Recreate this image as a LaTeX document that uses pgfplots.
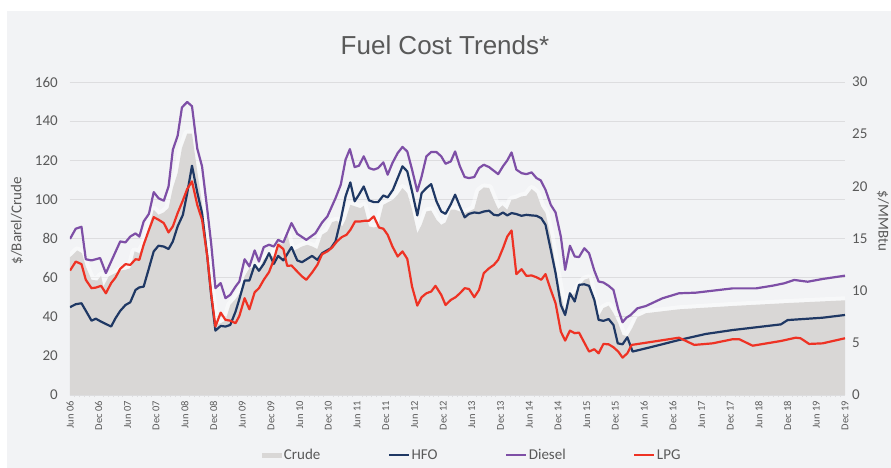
\documentclass[border=0pt]{standalone}
\usepackage{fontspec}
\setmainfont{Carlito}
\newfontfamily\titlefont{Liberation Sans}
\usepackage{pgfplots}
\usepackage{pgfplotstable}
\pgfplotsset{compat=1.18}
\definecolor{bg}{HTML}{F2F3F5}
\definecolor{crudec}{HTML}{D9D7D6}
\definecolor{hfoc}{HTML}{1F3864}
\definecolor{dieselc}{HTML}{7E4FA6}
\definecolor{lpgc}{HTML}{EE3224}
\definecolor{txt}{HTML}{595959}
\definecolor{gridc}{HTML}{DDDDDF}

\pgfplotstableread{
x y
0 70.3
1.5 73.9
2.5 72.5
3.3 65.7
4.5 58.9
5.7 58.5
6.5 60.9
7 55.4
8.1 60.6
9.5 62.3
10.5 63.6
11.6 64
12.6 64.8
13.5 73.4
14.5 72.5
15.5 76.8
16.5 85.8
17.5 94.7
18.5 92.1
19.6 93.3
20.6 95.5
21.5 105.8
22.5 113.5
23.4 126.2
24.5 133.6
25.5 133.6
26.6 114.3
27.6 98.1
28.7 74.2
29.5 53.7
30.4 35.8
31.5 36.7
32.5 38
33.5 46
34.6 49
35.7 52.9
36.5 60.6
37.5 64.8
38.6 65.3
39.5 64
40.5 69.4
41.6 70.8
42.6 71.1
43.5 78
44.6 76.8
45.4 82.7
46.3 73.4
47.5 74.6
48.5 75.9
49.6 76.8
50.6 75.9
51.7 74.6
52.7 81.9
53.8 83.6
54.8 88.4
55.8 89.1
56.9 86.2
57.6 89.6
58.6 97.2
59.6 96.4
60.7 95.5
61.4 96.7
62.5 86.2
63.5 85.6
64.4 86.2
65.5 97.2
66.4 98.4
67.5 99.8
68.5 102.4
69.5 105.8
70.5 103.2
71.5 94.7
72.6 82.7
73.5 87
74.5 93.8
75.5 94.3
76.6 89.6
77.6 87
78.5 88.2
79.6 94.7
80.5 94.7
81.5 93.8
82.5 93
83.4 93.8
84.5 95.2
85.5 104.1
86.5 106.1
87.6 105.8
88.6 99.8
89.5 95
90.4 96.9
91.4 94.7
92.3 99.8
93.3 100.3
94.4 101.5
95.4 101.8
96.5 105.3
97.5 103.2
98.5 96.4
99.4 93
100.5 81
101.5 65.7
102.6 51.2
103.5 42.6
104.5 50.3
105.5 52
106.4 55.4
107.5 58.9
108.5 59.7
109.6 46.9
110.5 40
111.5 44.4
112.6 45.7
113.6 41.8
114.6 36.7
115.5 30.7
116.5 29.9
117.5 34.1
118.6 39.7
120.4 41.8
127.3 43.8
138.5 45.5
150 47
162 48.4
}\crudetable

\begin{document}
\begin{tikzpicture}
\useasboundingbox (0pt,0pt) rectangle (891pt,468pt);
\fill[white] (0pt,0pt) rectangle (891pt,468pt);
\fill[bg] (7pt,0pt) rectangle (891pt,457pt);
\node[font=\titlefont\fontsize{26}{30}\selectfont, text=txt] at (445pt,423pt) {Fuel Cost Trends*};

\begin{axis}[
  at={(70pt,73pt)}, anchor=south west, scale only axis,
  width=775pt, height=313pt,
  xmin=0, xmax=162, ymin=0, ymax=160,
  /pgf/number format/assume math mode=true,
  axis x line*=bottom, axis y line*=left,
  x axis line style={draw=gridc, line width=0.8pt, -},
  y axis line style={draw=none},
  ytick={0,20,...,160},
  ymajorgrids, grid style={draw=gridc, line width=0.8pt},
  major tick length=0pt,
  xtick={0,6,...,162},
  xticklabels={Jun 06,Dec 06,Jun 07,Dec 07,Jun 08,Dec 08,Jun 09,Dec 09,Jun 10,Dec 10,Jun 11,Dec 11,Jun 12,Dec 12,Jun 13,Dec 13,Jun 14,Dec 14,Jun 15,Dec 15,Jun 16,Dec 16,Jun 17,Dec 17,Jun 18,Dec 18,Jun 19,Dec 19},
  minor x tick num=5, minor tick length=2.5pt, tick align=outside,
  minor tick style={draw=gridc, line width=0.6pt},
  xticklabel style={rotate=90, anchor=east, font=\fontsize{10.5}{12}\selectfont, text=txt, inner sep=6pt},
  yticklabel style={font=\fontsize{15}{18}\selectfont, text=txt, inner sep=0pt, xshift=-12pt},
  ylabel={\$/Barel/Crude},
  ylabel style={at={(axis description cs:-0.0684,0.556)}, anchor=center, font=\fontsize{15}{18}\selectfont, text=txt},
  legend style={at={(axis description cs:0.519,-0.192)}, anchor=center, draw=none, fill=none,
    font=\fontsize{15}{18}\selectfont, text=txt, nodes={inner sep=1.5pt},
    /tikz/every even column/.append style={column sep=66pt}},
  legend columns=4,
  legend image code/.code={\draw[#1] (0pt,0pt) -- (20pt,0pt);},
]
\addplot[draw=white, line width=8pt, line join=round, opacity=0.45, forget plot] table {\crudetable};
\addplot[draw=none, fill=crudec,
  legend image code/.code={\fill[crudec] (0pt,-2.5pt) rectangle (20pt,2.5pt);}] table {\crudetable} \closedcycle;
\addlegendentry{Crude}

\addplot[hfoc, line width=2.2pt, line join=round] table {
x y
0 44.9
1.2 46.4
2.4 46.9
4.5 38
5.4 39
6.5 37.5
7.5 36.3
8.6 35
9.5 39.2
10.5 43
11.6 46
12.6 47.4
13.7 53.7
14.5 55
15.4 55.4
16.5 64.8
17.5 73.4
18.5 76.3
19.6 75.9
20.6 74.6
21.5 78.5
22.5 86.2
23.6 92.1
24.5 103.2
25.5 117.2
26.6 103.6
27.6 93
28.7 70.8
29.5 51.2
30.4 32.9
31.5 35.3
32.5 35
33.5 35.8
34.6 42.6
35.4 49
36.5 58.5
37.5 58.5
38.6 66.5
39.5 63.5
40.5 67
41.6 72.5
42.6 67
43.5 71.1
44.6 68.8
46.3 75.6
47.5 68.8
48.5 67.9
50.6 71.1
51.7 69.1
52.7 72.5
54.5 75
55.5 78.5
56.6 89.6
57.6 101.5
58.6 108.7
59.5 99
60.4 102.4
61.4 106.6
62.5 99.5
63.5 98.6
64.4 98.6
65.5 102
66.4 101
67.5 104.9
68.5 110.9
69.5 116.9
70.5 114.3
71.5 104.1
72.6 91.8
73.5 103.2
74.5 105.8
75.5 107.8
76.6 99
77.6 93.8
78.5 92.6
79.6 97.5
80.5 102.4
81.5 96.4
82.5 90.8
83.4 92.6
84.5 93.3
85.5 93
86.5 93.8
87.6 94.2
88.6 92.1
89.5 91.8
90.5 93.3
91.4 91.8
92.3 93
93.3 92.5
94.4 91.6
95.4 92.1
96.5 91.8
97.5 91.6
98.5 90.4
99.4 87
100.5 74.2
101.5 62.3
102.6 46
103.5 40.9
104.5 52
105.5 47.8
106.4 56.3
107.5 56.6
108.5 55.8
109.6 48.6
110.5 38.4
111.5 37.9
112.6 38.8
113.6 35.8
114.5 26.4
115.5 25.9
116.5 29.5
117.6 22.2
121.8 24.7
127.3 28.1
132.9 31.2
138.5 33.2
143.4 34.6
148.6 36.1
150 38.3
157.3 39.5
162 40.9
};
\addlegendentry{HFO}

\addplot[dieselc, line width=2.2pt, line join=round] table {
x y
0 79.8
1.2 85
2.4 86
3.3 69.4
4.5 68.8
6.3 70
7.5 62.3
10.5 78.5
11.6 78
12.6 81
13.7 82.6
14.5 81
15.4 88.7
16.5 92.6
17.5 103.7
18.5 100.6
19.6 99.3
20.6 106.6
21.5 125.4
22.5 132.5
23.4 147
24.5 149.8
25.5 147.6
26.6 126
27.6 116.9
28.7 94.7
29.5 77.6
30.4 54.6
31.5 57.2
32.5 49.5
33.5 51.2
34.6 55.4
35.4 58
36.5 69.4
37.5 65.7
38.6 73.9
39.5 68.2
40.5 75.6
41.6 76.8
42.6 75.9
43.5 79.3
44.6 78
46.3 87.9
47.5 82.4
49.4 79.3
51.3 82.7
52.7 88.2
53.8 91.3
55.5 100.6
56.6 107.5
57.6 120.3
58.5 125.7
59.5 116.5
60.4 117.2
61.4 122
62.5 116
63.5 115.2
64.4 116
65.5 118.9
66.4 112.6
67.4 118.6
68.5 123.7
69.5 126.8
70.5 124.5
71.5 115.2
72.6 104.1
73.5 111.7
74.5 122
75.5 124.2
76.6 124.2
77.6 122
78.5 118.2
79.6 119.4
80.5 124.5
81.5 116.9
82.5 111.4
83.4 110.9
84.5 111.4
85.5 116
86.5 117.7
87.6 116.5
88.6 114.6
89.5 112.9
90.5 116.9
91.4 119.9
92.3 124
93.3 115.2
94.4 113.4
95.4 112.9
96.5 113.8
97.5 110.9
98.4 109.7
99.4 104.9
100.5 97.2
101.5 93.3
102.6 81
103.5 64
104.5 76.3
105.5 70.8
106.4 70.5
107.5 75
108.5 72.5
109.6 63.6
110.5 58
111.5 57.5
112.6 55.8
113.6 53.7
114.6 43.8
115.5 37.2
116.3 39.5
117.2 40.9
118.6 44.3
120.4 45.5
123.8 49.4
127.3 52
130.8 52.3
134.3 53.3
138.5 54.5
143.4 54.5
146.9 55.9
149.3 57.1
151.4 58.8
154.2 57.9
157.3 59.3
162 61
};
\addlegendentry{Diesel}

\addplot[lpgc, line width=2.2pt, line join=round] table {
x y
0 63.6
1.2 68.2
2.4 66.9
3.3 58.9
4.5 54.6
5.4 54.9
6.5 55.8
7.5 52
8.6 57.2
9.5 60
10.5 64.5
11.6 66.9
12.6 66.5
13.7 69.4
14.5 69.1
15.4 76.8
16.5 84.4
17.5 90.9
18.5 89.6
19.6 87.9
20.6 83.1
21.5 86.2
22.5 93
23.6 99.5
24.5 105.3
25.5 109.2
26.6 97.2
27.6 89.6
28.7 70.8
29.5 52
30.4 35
31.5 42.1
32.5 38.4
33.5 38
34.6 36.7
35.4 40.4
36.5 49.5
37.5 43.8
38.6 52.5
39.5 54.6
40.5 58.9
41.6 62.8
42.6 69.1
43.5 76.8
44.6 74.6
45.4 66
46.3 66.2
47.5 63.1
48.5 60.6
49.4 58.9
50.6 62.6
51.7 66.5
52.7 72
53.8 73.4
54.8 75.4
55.8 78.5
56.8 80.7
57.8 81.9
58.6 84.4
59.6 88.7
60.6 88.7
61.8 89.1
62.5 89.1
63.5 91.3
64.6 85.6
65.5 85
66.4 81.9
67.4 75.9
68.5 70.8
69.5 73.4
70.5 69.6
71.5 55.4
72.6 45.7
73.5 50
74.5 52
75.5 52.9
76.4 55.8
77.6 51.2
78.5 46
79.6 48.6
80.6 50
81.5 52
82.5 54.6
83.4 54.2
84.5 50
85.5 53.7
86.5 62.3
87.6 64.8
88.6 66.5
89.5 69.1
90.5 75
91.4 81
92.3 84.1
93.3 61.8
94.4 64.3
95.4 60.9
96.5 61.1
97.5 60.2
98.5 58.9
99.4 61.8
100.5 53.7
101.5 46.9
102.6 32.4
103.5 27.8
104.5 32.9
105.5 31.6
106.4 31.9
107.5 26.8
108.5 22.2
109.6 23.4
110.5 21.3
111.5 26.1
112.6 25.9
113.6 24.4
114.6 22.2
115.5 19.1
116.5 21.3
117.4 25.6
127.3 29.3
130.5 25.6
134.3 26.4
138.5 28.5
139.9 28.5
142.7 25.2
148.6 27.6
151.7 29.3
152.7 29
154.5 26.1
157.3 26.4
162 29
};
\addlegendentry{LPG}
\end{axis}

\begin{axis}[
  at={(70pt,73pt)}, anchor=south west, scale only axis,
  width=775pt, height=313pt,
  xmin=0, xmax=162, ymin=0, ymax=30,
  /pgf/number format/assume math mode=true,
  axis x line=none, axis y line*=right,
  y axis line style={draw=none},
  ytick={0,5,...,30}, major tick length=0pt,
  yticklabel style={font=\fontsize{15}{18}\selectfont, text=txt, inner sep=0pt, xshift=7pt},
  ylabel={\$/MMBtu},
  ylabel style={at={(axis description cs:1.049,0.556)}, anchor=center, rotate=180, font=\fontsize{15}{18}\selectfont, text=txt},
]
\addplot[draw=none] coordinates {(0,0)};
\end{axis}
\end{tikzpicture}
\end{document}
